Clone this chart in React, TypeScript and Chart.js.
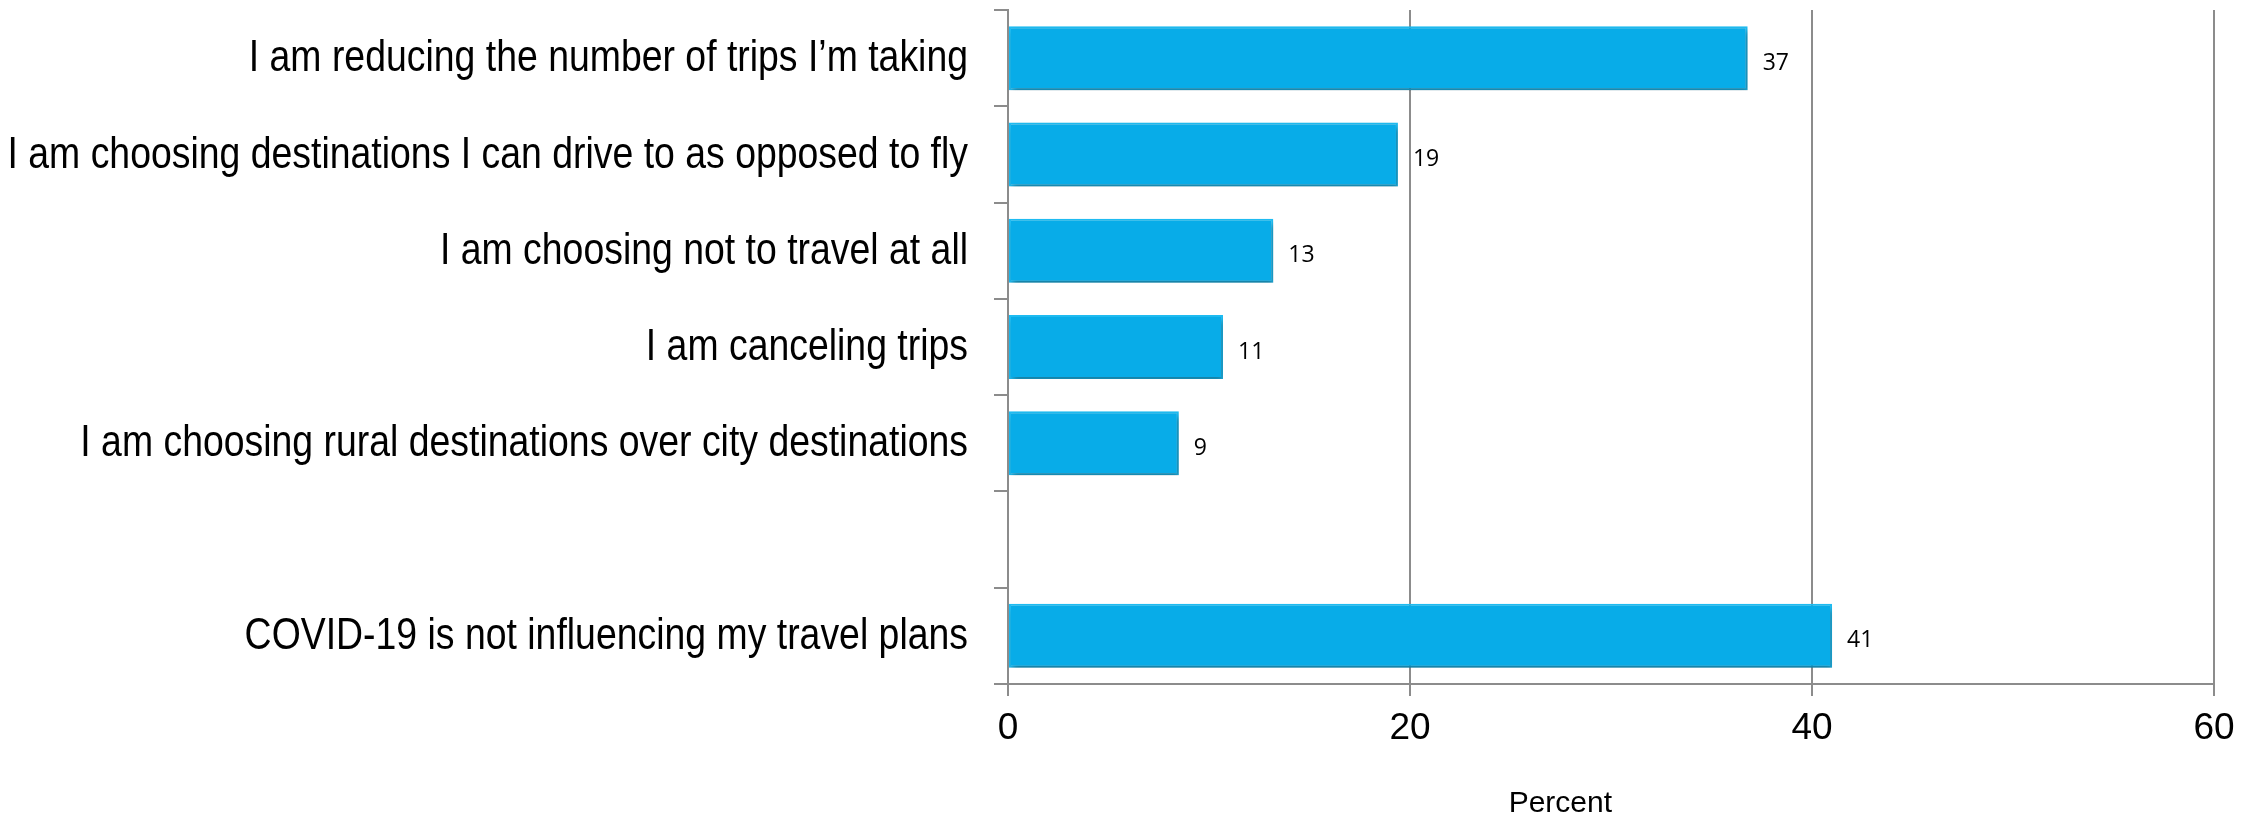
import React, { useEffect, useRef } from "react";
import { Chart, registerables } from "chart.js";

Chart.register(...registerables);

const categories = [
  "I am reducing the number of trips I’m taking",
  "I am choosing destinations I can drive to as opposed to fly",
  "I am choosing not to travel at all",
  "I am canceling trips",
  "I am choosing rural destinations over city destinations",
  "",
  "COVID-19 is not influencing my travel plans",
];
const percentValues: (number | null)[] = [36.8, 19.4, 13.2, 10.7, 8.5, null, 41];
const valueLabels = ["37", "19", "13", "11", "9", "", "41"];
const xAxisMin = 0;
const xAxisMax = 60;
const xAxisStep = 20;
const xAxisTitle = "Percent";

const GRID = "#8c8c8c";

const barDecor = {
  id: "barDecor",
  beforeDatasetsDraw(chart: any) {
    const ctx = chart.ctx;
    ctx.save();
    ctx.shadowColor = "rgba(0,0,0,0.35)";
    ctx.shadowBlur = 6;
    ctx.shadowOffsetX = 2;
    ctx.shadowOffsetY = 4;
  },
  afterDatasetsDraw(chart: any) {
    const ctx = chart.ctx;
    ctx.restore();
    const meta = chart.getDatasetMeta(0);
    ctx.save();
    ctx.fillStyle = "#000";
    ctx.font = '23px "Open Sans", "Noto Sans", sans-serif';
    ctx.textAlign = "left";
    ctx.textBaseline = "middle";
    meta.data.forEach((bar: any, i: number) => {
      const v = percentValues[i];
      if (v === null || v === undefined) return;
      ctx.fillText(valueLabels[i], bar.x + 15, bar.y + 5);
    });
    ctx.restore();
  },
  afterDraw(chart: any) {
    const ctx = chart.ctx;
    const area = chart.chartArea;
    const yScale = chart.scales.y;
    // condensed category labels (Arial Narrow look)
    ctx.save();
    ctx.fillStyle = "#000";
    ctx.font = '44px "Liberation Sans", Arial, sans-serif';
    ctx.textAlign = "right";
    ctx.textBaseline = "middle";
    categories.forEach((c, i) => {
      if (!c) return;
      const y = yScale.getPixelForTick(i);
      ctx.save();
      ctx.translate(yScale.right - 40, y + 1);
      ctx.scale(0.85, 1);
      ctx.fillText(c, 0, 0);
      ctx.restore();
    });
    ctx.restore();

    ctx.save();
    ctx.fillStyle = "#000";
    ctx.font = '30px "Liberation Sans", Arial, sans-serif';
    ctx.textAlign = "center";
    ctx.textBaseline = "middle";
    ctx.fillText(xAxisTitle, area.left + (area.right - area.left) * 0.458, 804);
    ctx.restore();
  },
};

export default function App() {
  const ref = useRef<HTMLCanvasElement | null>(null);
  useEffect(() => {
    if (!ref.current) return;
    const chart = new Chart(ref.current, {
      type: "bar",
      data: {
        labels: categories,
        datasets: [
          {
            data: percentValues,
            backgroundColor: "#08ace8",
            borderColor: "#1fbef4",
            borderWidth: 2,
            borderSkipped: false,
            categoryPercentage: 1,
            barPercentage: 0.665,
          },
        ],
      },
      options: {
        indexAxis: "y",
        animation: false,
        responsive: false,
        devicePixelRatio: 1,
        layout: { padding: { top: 10, right: 48, left: 0, bottom: 0 } },
        plugins: {
          legend: { display: false },
          tooltip: { enabled: false },
          title: { display: false },
        },
        scales: {
          x: {
            type: "linear",
            min: xAxisMin,
            max: xAxisMax,
            ticks: {
              stepSize: xAxisStep,
              color: "#000",
              font: { family: '"Liberation Sans", Arial, sans-serif', size: 37 },
              padding: 11,
            },
            grid: {
              color: GRID,
              lineWidth: 2,
              drawTicks: true,
              tickLength: 12,
              tickColor: GRID,
            },
            border: { display: true, color: GRID, width: 2 },
            afterFit: (scale: any) => {
              scale.height = 137;
            },
          },
          y: {
            type: "category",
            offset: true,
            ticks: {
              display: false,
              autoSkip: false,
            },
            grid: {
              offset: true,
              drawOnChartArea: false,
              drawTicks: true,
              tickLength: 14,
              color: GRID,
              lineWidth: 2,
            },
            border: { display: true, color: GRID, width: 2 },
            afterFit: (scale: any) => {
              scale.width = 1008;
              scale.paddingTop = 0;
              scale.paddingBottom = 0;
            },
          },
        },
      },
      plugins: [barDecor],
    } as any);
    return () => chart.destroy();
  }, []);
  return (
    <div style={{ position: "absolute", left: 0, top: 0, width: 2262, height: 821, background: "#fff" }}>
      <canvas ref={ref} width={2262} height={821} style={{ width: 2262, height: 821 }} />
    </div>
  );
}
